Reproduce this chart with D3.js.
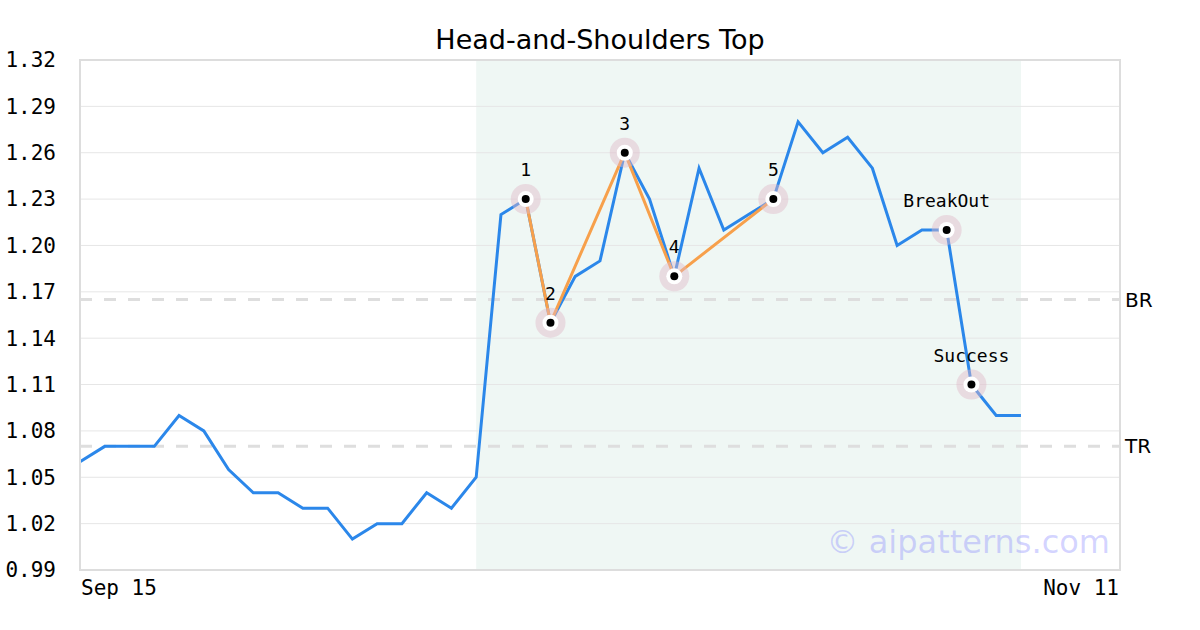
<!DOCTYPE html>
<html>
<head>
<meta charset="utf-8">
<script src="https://cdn.jsdelivr.net/npm/d3@7"></script>
<style>
  body { margin: 0; background: #fff; }
  svg { display: block; }
</style>
</head>
<body>
<svg id="chart" width="1200" height="630"></svg>
<script>
// price series (one point per trading day, index 0 = Sep 15)
const prices = [1.06, 1.07, 1.07, 1.07, 1.09, 1.08, 1.055, 1.04, 1.04, 1.03,
  1.03, 1.01, 1.02, 1.02, 1.04, 1.03, 1.05, 1.22, 1.23, 1.15,
  1.18, 1.19, 1.26, 1.23, 1.18, 1.25, 1.21, 1.22, 1.23, 1.28,
  1.26, 1.27, 1.25, 1.20, 1.21, 1.21, 1.11, 1.09, 1.09];

// pattern pivots 1..5 (index into prices)
const pivotIdx = [18, 19, 22, 24, 28];
const pivotLabels = ["1", "2", "3", "4", "5"];

// breakout / success markers
const eventIdx = [35, 36];
const eventLabels = ["BreakOut", "Success"];

// horizontal levels
const levelNames = ["BR", "TR"];
const levelValues = [1.165, 1.07];

const yTicks = [0.99, 1.02, 1.05, 1.08, 1.11, 1.14, 1.17, 1.20, 1.23, 1.26, 1.29, 1.32];
const xTickLabels = ["Sep 15", "Nov 11"];
const shadeRange = [16, 38];
const lastIndex = 42;

const margin = {top: 60, right: 80, bottom: 60, left: 80};
const width = 1200 - margin.left - margin.right,
      height = 630 - margin.top - margin.bottom;

const svg = d3.select("#chart");
const g = svg.append("g")
  .attr("transform", "translate(" + margin.left + "," + margin.top + ")");

const x = d3.scaleLinear().domain([0, lastIndex]).range([0, width]);
const y = d3.scaleLinear().domain([0.99, 1.32]).range([height, 0]);

// shaded pattern zone
g.append("rect")
  .attr("x", x(shadeRange[0]))
  .attr("y", 0)
  .attr("width", x(shadeRange[1]) - x(shadeRange[0]))
  .attr("height", height)
  .attr("fill", "#eff7f4");

// grid lines
g.append("g").selectAll("line").data(yTicks.slice(1, -1)).enter()
  .append("line")
  .attr("x1", 0).attr("x2", width)
  .attr("y1", d => y(d)).attr("y2", d => y(d))
  .attr("stroke", "#e6e6e6").attr("stroke-width", 1);

// y tick labels
g.append("g").selectAll("text").data(yTicks).enter()
  .append("text")
  .attr("x", -24)
  .attr("y", d => y(d))
  .attr("dy", "0.35em")
  .attr("text-anchor", "end")
  .style("font-family", "'DejaVu Sans Mono', monospace")
  .style("font-size", "21px")
  .text(d => d.toFixed(2));

// x tick labels at both ends
g.append("text")
  .attr("x", 1).attr("y", height + 25)
  .style("font-family", "'DejaVu Sans Mono', monospace")
  .style("font-size", "21px")
  .text(xTickLabels[0]);
g.append("text")
  .attr("x", width - 1).attr("y", height + 25)
  .attr("text-anchor", "end")
  .style("font-family", "'DejaVu Sans Mono', monospace")
  .style("font-size", "21px")
  .text(xTickLabels[1]);

// BR / TR levels
levelValues.forEach((v, i) => {
  g.append("line")
    .attr("x1", 0).attr("x2", width)
    .attr("y1", y(v)).attr("y2", y(v))
    .attr("stroke", "#dedede")
    .attr("stroke-width", 3)
    .attr("stroke-dasharray", "12,12");
  g.append("text")
    .attr("x", width + 5).attr("y", y(v))
    .attr("dy", "0.35em")
    .style("font-family", "'DejaVu Sans', sans-serif")
    .style("font-size", "20px")
    .text(levelNames[i]);
});

// price line
const line = d3.line().x((d, i) => x(i)).y(d => y(d));
g.append("path")
  .datum(prices)
  .attr("d", line)
  .attr("fill", "none")
  .attr("stroke", "#2b87ea")
  .attr("stroke-width", 3);

// pattern line through pivots
g.append("path")
  .datum(pivotIdx)
  .attr("d", d3.line().x(d => x(d)).y(d => y(prices[d])))
  .attr("fill", "none")
  .attr("stroke", "#f7a04b")
  .attr("stroke-width", 3);

// markers
function marker(idx, label) {
  const cx = x(idx), cy = y(prices[idx]);
  g.append("circle").attr("cx", cx).attr("cy", cy).attr("r", 15)
    .attr("fill", "rgba(225,185,200,0.45)");
  g.append("circle").attr("cx", cx).attr("cy", cy).attr("r", 8)
    .attr("fill", "#fff");
  g.append("circle").attr("cx", cx).attr("cy", cy).attr("r", 4)
    .attr("fill", "#000");
  g.append("text")
    .attr("x", cx).attr("y", cy - 23)
    .attr("text-anchor", "middle")
    .style("font-family", "'DejaVu Sans Mono', monospace")
    .style("font-size", "18px")
    .text(label);
}
pivotIdx.forEach((d, i) => marker(d, pivotLabels[i]));
eventIdx.forEach((d, i) => marker(d, eventLabels[i]));

// watermark
g.append("text")
  .attr("x", width - 10).attr("y", height - 17)
  .attr("text-anchor", "end")
  .style("font-family", "'DejaVu Sans', sans-serif")
  .style("font-size", "32px")
  .attr("fill", "rgba(130,130,255,0.35)")
  .text("© aipatterns.com");

// frame
g.append("rect")
  .attr("x", 0).attr("y", 0)
  .attr("width", width).attr("height", height)
  .attr("fill", "none")
  .attr("stroke", "#dddddd")
  .attr("stroke-width", 2);

// title
svg.append("text")
  .attr("x", 600).attr("y", 49)
  .attr("text-anchor", "middle")
  .style("font-family", "'DejaVu Sans', sans-serif")
  .style("font-size", "27px")
  .text("Head-and-Shoulders Top");
</script>
</body>
</html>
